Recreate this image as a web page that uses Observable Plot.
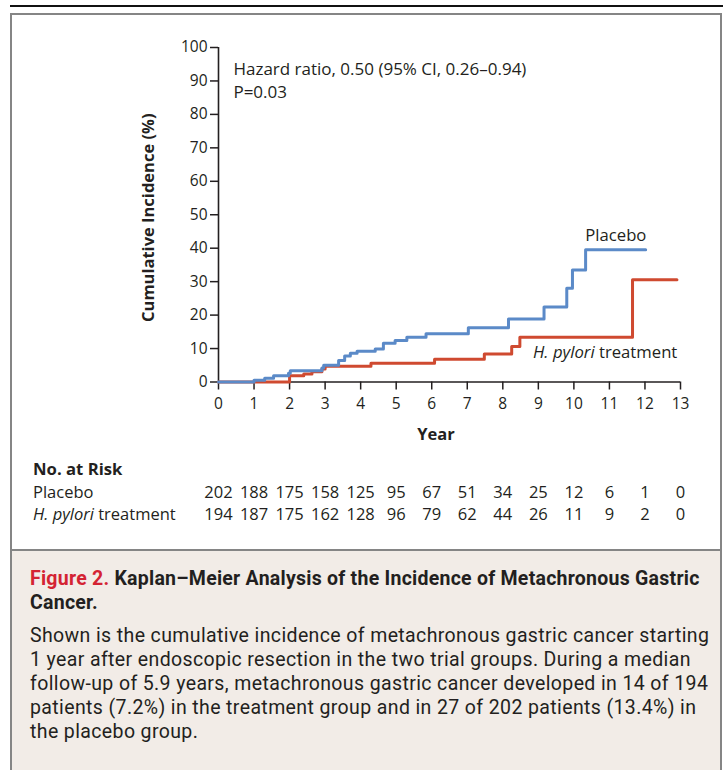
<!DOCTYPE html>
<html>
<head>
<meta charset="utf-8">
<script src="https://cdn.jsdelivr.net/npm/d3@7"></script>
<script src="https://cdn.jsdelivr.net/npm/@observablehq/plot@0.6"></script>
<style>
  html, body { margin: 0; padding: 0; background: #fff; }
  body { width: 723px; height: 770px; position: relative; overflow: hidden; font-family: "Open Sans", sans-serif; color: #231f20; }
  .rule { position: absolute; left: 10px; top: 5px; width: 713px; height: 2px; background: #111; }
  .box { position: absolute; left: 10px; top: 13px; width: 708px; height: 800px; border: 2px solid #858585; }
  .cap { position: absolute; left: 10px; top: 549px; width: 708px; height: 260px; background: #f2ece7; border: 2px solid #858585; }
  .abs { position: absolute; white-space: nowrap; }
  #chart { position: absolute; left: 0; top: 0; }
  #risk { position: absolute; left: 0; top: 478px; }
  .title { left: 30px; top: 567px; font-family: Roboto, sans-serif; font-size: 19.5px; font-weight: bold; line-height: 24px; letter-spacing: 0.25px; }
  .title .fig { color: #d42333; }
  .body { left: 30px; top: 624px; font-family: Roboto, sans-serif; font-size: 19.5px; line-height: 24px; letter-spacing: 0.38px; }
  .lab { font-size: 16.5px; line-height: 20px; }
</style>
</head>
<body>
<div class="rule"></div>
<div class="box"></div>
<div class="cap"></div>
<div id="chart"></div>
<div id="risk"></div>
<div class="abs lab" style="left:33px; top:459px; font-weight:bold; font-size:16.7px;">No. at Risk</div>
<div class="abs lab" style="left:33px; top:482px;">Placebo</div>
<div class="abs lab" style="left:33px; top:504px;"><i>H. pylori</i> treatment</div>
<div class="abs title"><span class="fig">Figure 2.</span> Kaplan–Meier Analysis of the Incidence of Metachronous Gastric<br>Cancer.</div>
<div class="abs body">Shown is the cumulative incidence of metachronous gastric cancer starting<br>1 year after endoscopic resection in the two trial groups. During a median<br>follow-up of 5.9 years, metachronous gastric cancer developed in 14 of 194<br>patients (7.2%) in the treatment group and in 27 of 202 patients (13.4%) in<br>the placebo group.</div>
<script>
// ---- data ----
const years = [0,1,2,3,4,5,6,7,8,9,10,11,12,13];
const yTicks = [0,10,20,30,40,50,60,70,80,90,100];
const placeboTime = [0, 1.0, 1.3, 1.55, 1.97, 2.02, 2.91, 2.96, 3.38, 3.55, 3.71, 3.9, 4.41, 4.64, 4.97, 5.3, 5.84, 7.03, 8.16, 9.16, 9.8, 9.96, 10.33, 12.02];
const placeboPct  = [0, 0.5, 1.1, 1.9, 2.6, 3.4, 4.2, 5.0, 6.4, 7.8, 8.6, 9.2, 9.9, 11.6, 12.4, 13.4, 14.4, 16.2, 18.8, 22.4, 28.0, 33.5, 39.5, 39.5];
const treatmentTime = [0, 2.0, 2.4, 2.63, 2.91, 3.0, 4.29, 6.08, 7.48, 8.25, 8.48, 11.65, 12.9];
const treatmentPct  = [0, 1.9, 2.4, 3.1, 3.9, 4.7, 5.6, 6.8, 8.4, 10.6, 13.4, 30.6, 30.6];
const placeboRisk   = [202,188,175,158,125,95,67,51,34,25,12,6,1,0];
const treatmentRisk = [194,187,175,162,128,96,79,62,44,26,11,9,2,0];
const groups = ["Placebo", "H. pylori treatment"];
const hazardText = "Hazard ratio, 0.50 (95% CI, 0.26–0.94)\nP=0.03";

const ink = "#231f20";
const blue = "#5b8ac8";
const red = "#cf4a30";
const font = "'Open Sans', sans-serif";

const placebo = placeboTime.map((t, i) => ({t, p: placeboPct[i]}));
const treatment = treatmentTime.map((t, i) => ({t, p: treatmentPct[i]}));

const chart = Plot.plot({
  width: 723, height: 450,
  marginLeft: 218, marginRight: 43, marginTop: 47, marginBottom: 68.5,
  x: {domain: [0, 13]},
  y: {domain: [0, 100]},
  style: {fontFamily: font, fontSize: "15.5px", color: ink, background: "transparent", overflow: "visible"},
  marks: [
    Plot.axisX({ticks: years, tickSize: 8, tickPadding: 8, label: null, stroke: ink, strokeWidth: 1.5, fontSize: 15.5}),
    Plot.axisY({ticks: yTicks, tickSize: 8, tickPadding: 3, label: null, stroke: ink, strokeWidth: 1.5, fontSize: 15.5}),
    Plot.ruleY([0], {stroke: ink, strokeWidth: 1.6}),
    Plot.ruleX([0], {stroke: ink, strokeWidth: 1.6}),
    Plot.line(treatment, {x: "t", y: "p", curve: "step-after", stroke: red, strokeWidth: 3}),
    Plot.line(placebo, {x: "t", y: "p", curve: "step-after", stroke: blue, strokeWidth: 3}),
    Plot.text([hazardText], {x: 0.42, y: 96.6, textAnchor: "start", lineAnchor: "top", lineHeight: 1.36, fontSize: 17, fill: ink}),
    Plot.text(["Placebo"], {x: 11.18, y: 43.8, fontSize: 16.7, fill: ink}),
    Plot.text([groups[1]], {x: 8.85, y: 8.8, textAnchor: "start", fontSize: 16.7, fill: ink}),
    Plot.text(["Cumulative Incidence (%)"], {frameAnchor: "left", dx: -70, dy: 3, rotate: -90, textAnchor: "middle", fontWeight: "bold", fontSize: 16.5, fill: ink}),
    Plot.text(["Year"], {x: 6.12, frameAnchor: "bottom", dy: 58, fontWeight: "bold", fontSize: 16.5, fill: ink})
  ]
});
// italicize the genus/species part of the treatment label
for (const t of chart.querySelectorAll("text")) {
  if (t.textContent === groups[1] && !t.querySelector("tspan")) {
    t.textContent = "";
    const ns = "http://www.w3.org/2000/svg";
    const a = document.createElementNS(ns, "tspan");
    a.setAttribute("font-style", "italic");
    a.textContent = "H. pylori";
    const b = document.createElementNS(ns, "tspan");
    b.textContent = " treatment";
    t.append(a, b);
  }
}
document.getElementById("chart").append(chart);

const rowPlacebo = years.map((yr, i) => ({year: yr, n: placeboRisk[i]}));
const rowTreatment = years.map((yr, i) => ({year: yr, n: treatmentRisk[i]}));
const risk = Plot.plot({
  width: 723, height: 50,
  marginLeft: 218, marginRight: 43, marginTop: 0, marginBottom: 0,
  x: {domain: [0, 13], axis: null},
  style: {fontFamily: font, color: ink, background: "transparent", overflow: "visible"},
  marks: [
    Plot.text(rowPlacebo, {x: "year", frameAnchor: "top", dy: 14, lineAnchor: "middle", text: "n", fontSize: 16.5, fill: ink}),
    Plot.text(rowTreatment, {x: "year", frameAnchor: "top", dy: 36, lineAnchor: "middle", text: "n", fontSize: 16.5, fill: ink})
  ]
});
document.getElementById("risk").append(risk);
</script>
</body>
</html>
